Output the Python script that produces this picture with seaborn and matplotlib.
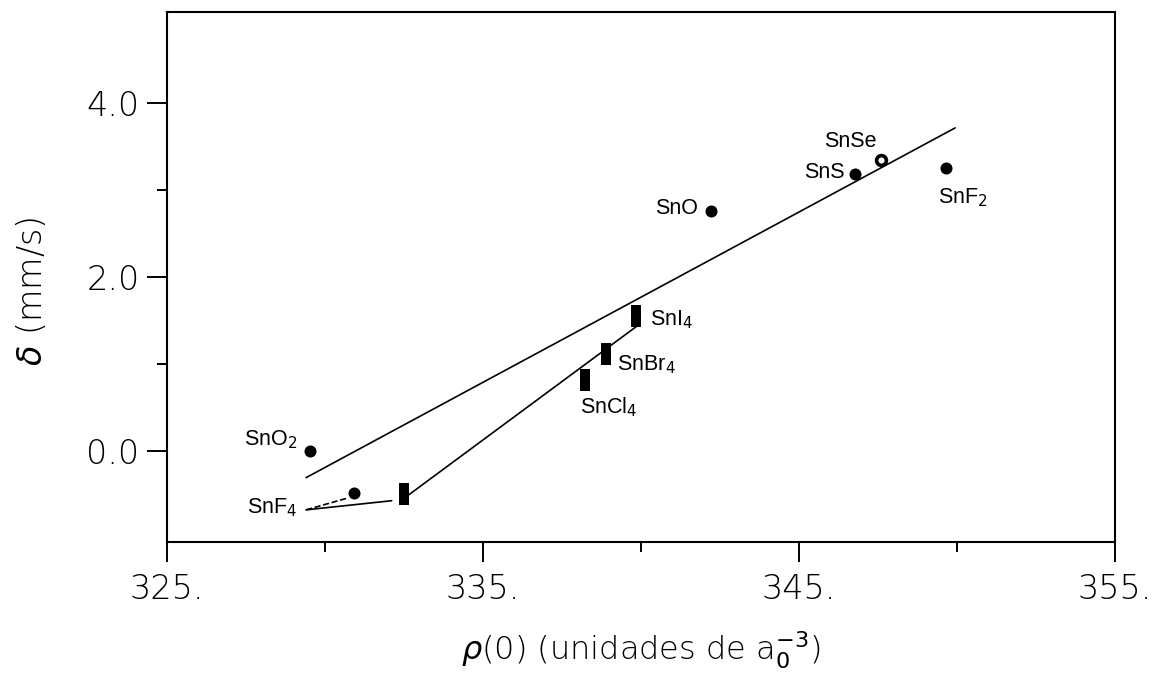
import matplotlib
matplotlib.use("Agg")
import matplotlib.pyplot as plt
import seaborn as sns
import pandas as pd

# ---- data ----
circle_names = ["SnO$_2$", "SnF$_4$", "SnO", "SnS", "SnF$_2$"]
circle_x = [329.53, 330.92, 342.22, 346.77, 349.65]
circle_y = [0.00, -0.49, 2.75, 3.18, 3.25]

open_names = ["SnSe"]
open_x = [347.59]
open_y = [3.34]

rect_names = ["SnF$_4$", "SnCl$_4$", "SnBr$_4$", "SnI$_4$"]
rect_x = [332.50, 338.23, 338.90, 339.84]
rect_y = [-0.50, 0.81, 1.11, 1.55]

upper_x = [329.40, 349.94]
upper_y = [-0.31, 3.71]
lower_x = [332.64, 339.92]
lower_y = [-0.51, 1.445]
snf4_link_x = [329.40, 332.11]
snf4_link_y = [-0.68, -0.575]
snf4_dash_x = [329.40, 330.69]
snf4_dash_y = [-0.68, -0.547]

x_ticks = [325, 335, 345, 355]
x_ticklabels = ["325.", "335.", "345.", "355."]
x_minor = [330, 340, 350]
y_ticks = [0.0, 2.0, 4.0]
y_ticklabels = ["0.0", "2.0", "4.0"]
y_minor = [1.0, 3.0]

# labels: text, x, y, ha
point_labels = [
    ("SnO$_2$", 329.11, 0.13, "right"),
    ("SnF$_4$", 329.11, -0.66, "right"),
    ("SnCl$_4$", 338.07, 0.50, "left"),
    ("SnBr$_4$", 339.24, 0.99, "left"),
    ("SnI$_4$", 340.28, 1.50, "left"),
    ("SnO", 341.80, 2.78, "right"),
    ("SnS", 346.46, 3.20, "right"),
    ("SnSe", 346.61, 3.55, "center"),
    ("SnF$_2$", 349.40, 2.91, "left"),
]

# ---- figure ----
sns.set_theme(style="white")
plt.rcParams["font.family"] = ["DejaVu Sans"]
plt.rcParams["mathtext.fontset"] = "dejavusans"

fig = plt.figure(figsize=(11.56, 6.83), dpi=100)
ax = fig.add_axes([0.1445, 0.2069, 0.82, 0.776])

df_c = pd.DataFrame({"x": circle_x, "y": circle_y})
df_o = pd.DataFrame({"x": open_x, "y": open_y})
df_r = pd.DataFrame({"x": rect_x, "y": rect_y})

rect_marker = [(-0.5, -1.0), (0.5, -1.0), (0.5, 1.0), (-0.5, 1.0), (-0.5, -1.0)]

for lx, ly, ls in [(upper_x, upper_y, "-"), (lower_x, lower_y, "-"),
                   (snf4_link_x, snf4_link_y, "-"), (snf4_dash_x, snf4_dash_y, "--")]:
    sns.lineplot(x=lx, y=ly, ax=ax, color="black", lw=1.2, linestyle=ls,
                 sort=False, estimator=None)

sns.scatterplot(data=df_c, x="x", y="y", ax=ax, color="black", s=75,
                marker="o", edgecolor="black", linewidth=0, zorder=3)
sns.scatterplot(data=df_o, x="x", y="y", ax=ax, color="white", s=50,
                marker="o", edgecolor="black", linewidth=2.6, zorder=3)
sns.scatterplot(data=df_r, x="x", y="y", ax=ax, color="black", s=240,
                marker=rect_marker, edgecolor="black", linewidth=0, zorder=3)

for txt, tx, ty, ha in point_labels:
    ax.text(tx, ty, txt, ha=ha, va="center", fontsize=15.5,
            family="Liberation Sans", color="black")

ax.set_xlim(325, 355)
ax.set_ylim(-1.046, 5.046)
ax.set_xticks(x_ticks)
ax.set_xticklabels(x_ticklabels)
ax.set_xticks(x_minor, minor=True)
ax.set_yticks(y_ticks)
ax.set_yticklabels(y_ticklabels)
ax.set_yticks(y_minor, minor=True)

ax.tick_params(axis="both", which="major", direction="out", length=14.4,
               width=1.4, color="black", labelsize=24, labelcolor="black")
ax.tick_params(axis="both", which="minor", direction="out", length=7.2,
               width=1.4, color="black")
ax.tick_params(axis="y", which="major", pad=5.5, left=True)
ax.tick_params(axis="y", which="minor", left=True)
ax.tick_params(axis="x", which="major", pad=8, bottom=True)
ax.tick_params(axis="x", which="minor", bottom=True)
for lab in ax.get_xticklabels() + ax.get_yticklabels():
    lab.set_fontweight("light")

for sp in ax.spines.values():
    sp.set_visible(True)
    sp.set_color("black")
    sp.set_linewidth(1.5)

ax.set_xlabel(r"$\rho$(0) (unidades de a$_0^{-3}$)", fontsize=23,
              fontweight="light", va="center", color="black")
ax.xaxis.set_label_coords(0.5, -0.205)
ax.set_ylabel(r"$\delta$ (mm/s)", fontsize=24, fontweight="light", va="center",
              color="black")
ax.yaxis.set_label_coords(-0.142, 0.473)

fig.savefig("out.png", dpi=100, facecolor="white")
